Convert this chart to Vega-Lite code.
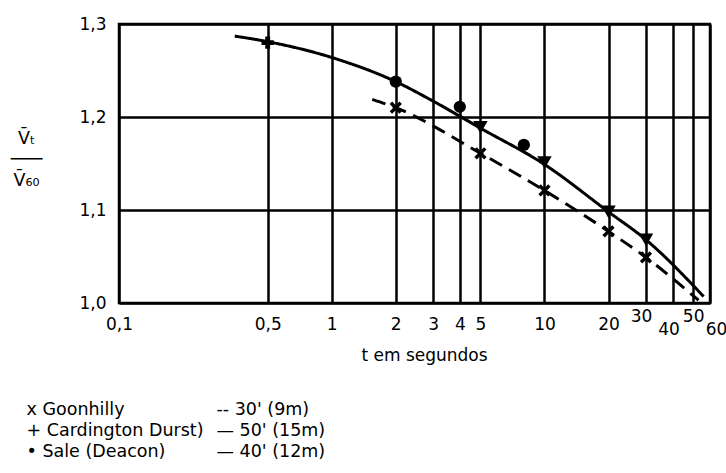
{
  "$schema": "https://vega.github.io/schema/vega-lite/v6.json",
  "autosize": "none",
  "width": 591,
  "height": 279,
  "padding": {"left": 119, "top": 24, "right": 16, "bottom": 170},
  "background": "white",
  "config": {
    "font": "DejaVu Sans",
    "view": {"stroke": "black", "strokeWidth": 2.5},
    "axis": {
      "grid": true,
      "gridColor": "black",
      "gridWidth": 2.5,
      "gridOpacity": 1,
      "domain": false,
      "ticks": false,
      "labelColor": "black",
      "labelFont": "DejaVu Sans",
      "labelFontSize": 17,
      "titleFont": "DejaVu Sans",
      "titleColor": "black",
      "titleFontWeight": "normal",
      "labelFlush": false,
      "labelOverlap": false,
      "labelBound": false
    },
    "legend": {
      "orient": "none",
      "padding": 0,
      "labelFont": "DejaVu Sans",
      "labelFontSize": 17.5,
      "labelColor": "black",
      "labelOffset": 0,
      "symbolSize": 0,
      "symbolOpacity": 0,
      "symbolStrokeWidth": 0,
      "rowPadding": 2,
      "labelLimit": 400
    }
  },
  "datasets": {
    "curves": [
      {"curve": "solid", "t": 0.35, "v": 1.287},
      {"curve": "solid", "t": 0.5, "v": 1.281},
      {"curve": "solid", "t": 1, "v": 1.264},
      {"curve": "solid", "t": 2, "v": 1.238},
      {"curve": "solid", "t": 3, "v": 1.217},
      {"curve": "solid", "t": 5, "v": 1.188},
      {"curve": "solid", "t": 10, "v": 1.149},
      {"curve": "solid", "t": 20, "v": 1.098},
      {"curve": "solid", "t": 30, "v": 1.068},
      {"curve": "solid", "t": 56, "v": 1.007},
      {"curve": "dashed", "t": 1.55, "v": 1.219},
      {"curve": "dashed", "t": 2, "v": 1.21},
      {"curve": "dashed", "t": 5, "v": 1.161},
      {"curve": "dashed", "t": 10, "v": 1.121},
      {"curve": "dashed", "t": 20, "v": 1.077},
      {"curve": "dashed", "t": 30, "v": 1.049},
      {"curve": "dashed", "t": 53, "v": 1.003}
    ],
    "sites": [
      {"site": "Goonhilly", "height": "-- 30'  (9m)", "t": 2, "v": 1.21},
      {"site": "Goonhilly", "height": "-- 30'  (9m)", "t": 5, "v": 1.161},
      {"site": "Goonhilly", "height": "-- 30'  (9m)", "t": 10, "v": 1.121},
      {"site": "Goonhilly", "height": "-- 30'  (9m)", "t": 20, "v": 1.077},
      {"site": "Goonhilly", "height": "-- 30'  (9m)", "t": 30, "v": 1.049},
      {"site": "Cardington Durst)", "height": "— 50' (15m)", "t": 0.5, "v": 1.28},
      {"site": "Sale (Deacon)", "height": "— 40' (12m)", "t": 2, "v": 1.238},
      {"site": "Sale (Deacon)", "height": "— 40' (12m)", "t": 4, "v": 1.211},
      {"site": "Sale (Deacon)", "height": "— 40' (12m)", "t": 8, "v": 1.17}
    ],
    "triangles": [
      {"t": 5, "v": 1.189},
      {"t": 10, "v": 1.151},
      {"t": 20, "v": 1.098},
      {"t": 30, "v": 1.068}
    ]
  },
  "encoding": {
    "x": {
      "field": "t",
      "type": "quantitative",
      "scale": {"type": "log", "domain": [0.1, 60], "nice": false},
      "axis": {
        "values": [0.1, 0.5, 1, 2, 3, 4, 5, 10, 20, 30, 40, 50, 60],
        "labelExpr": "replace(toString(datum.value), '.', ',')",
        "labelBaseline": "top",
        "labelPadding": {
          "condition": [
            {"test": "datum.value == 30 || datum.value == 50", "value": 5},
            {"test": "datum.value == 40 || datum.value == 60", "value": 18}
          ],
          "value": 13
        },
        "labelOffset": {
          "condition": [
            {"test": "datum.value == 30", "value": -5},
            {"test": "datum.value == 40", "value": -4},
            {"test": "datum.value == 60", "value": 6}
          ],
          "value": 0
        },
        "title": "t em segundos",
        "titleFontSize": 17,
        "titleX": 305,
        "titleY": 52,
        "titleBaseline": "middle",
        "titleAlign": "center"
      }
    },
    "y": {
      "field": "v",
      "type": "quantitative",
      "scale": {"domain": [1.0, 1.3], "zero": false, "nice": false},
      "axis": {
        "values": [1.0, 1.1, 1.2, 1.3],
        "labelExpr": "replace(format(datum.value, '.1f'), '.', ',')",
        "labelPadding": 13,
        "title": ["V̄ₜ", "───", "V̄₆₀"],
        "titleFontSize": 17.5,
        "titleAngle": 0,
        "titleAlign": "center",
        "titleBaseline": "middle",
        "titleLineHeight": 21,
        "titleX": -93,
        "titleY": 114
      }
    }
  },
  "layer": [
    {
      "data": {"name": "curves"},
      "mark": {"type": "line", "interpolate": "monotone", "color": "black", "strokeWidth": 3, "strokeCap": "butt"},
      "encoding": {
        "detail": {"field": "curve", "type": "nominal"},
        "strokeDash": {
          "field": "curve",
          "type": "nominal",
          "scale": {"domain": ["solid", "dashed"], "range": [[1, 0], [14, 8]]},
          "legend": null
        }
      }
    },
    {
      "data": {"name": "sites"},
      "mark": {"type": "point", "filled": true, "opacity": 1, "size": 150},
      "encoding": {
        "shape": {
          "field": "site",
          "type": "nominal",
          "scale": {
            "domain": ["Goonhilly", "Cardington Durst)", "Sale (Deacon)"],
            "range": ["M-1,-0.6L-0.6,-1L0,-0.4L0.6,-1L1,-0.6L0.4,0L1,0.6L0.6,1L0,0.4L-0.6,1L-1,0.6L-0.4,0Z", "cross", "circle"]
          },
          "legend": {
            "title": null,
            "legendX": -110,
            "legendY": 377,
            "labelExpr": "(datum.label == 'Goonhilly' ? 'x ' : datum.label == 'Sale (Deacon)' ? '• ' : '+ ') + datum.label"
          }
        },
        "color": {
          "field": "height",
          "type": "nominal",
          "scale": {
            "domain": ["-- 30'  (9m)", "— 50' (15m)", "— 40' (12m)"],
            "range": ["black", "black", "black"]
          },
          "legend": {
            "title": null,
            "legendX": 80,
            "legendY": 377
          }
        }
      }
    },
    {
      "data": {"name": "triangles"},
      "mark": {"type": "point", "filled": true, "opacity": 1, "size": 210, "shape": "triangle-down", "color": "black"},
      "encoding": {}
    }
  ]
}
